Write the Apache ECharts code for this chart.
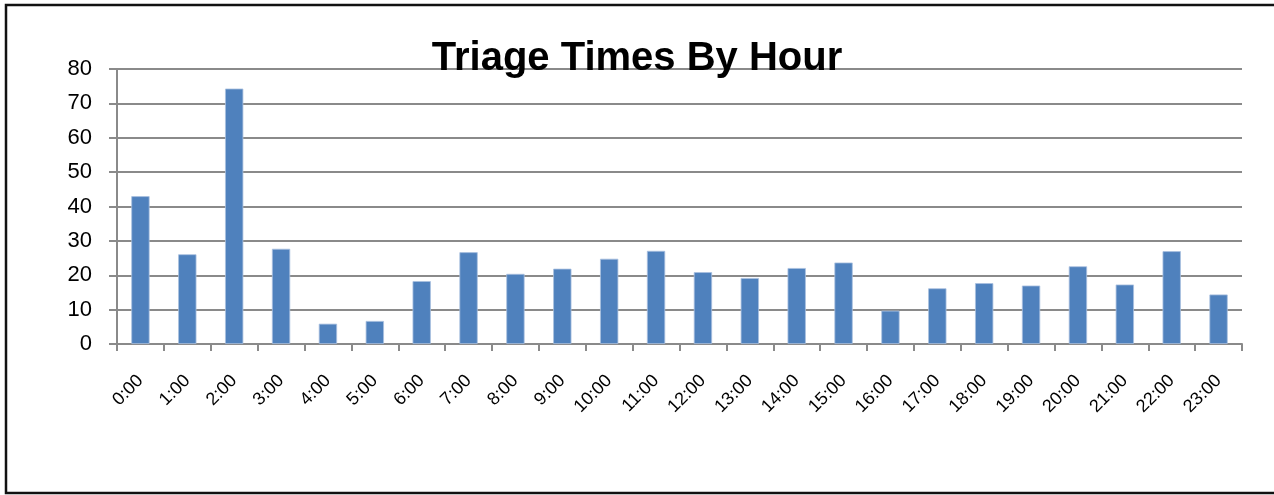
<!DOCTYPE html>
<html>
<head>
<meta charset="utf-8">
<script src="https://cdn.jsdelivr.net/npm/echarts@6/dist/echarts.min.js"></script>
<style>
  html, body { margin: 0; padding: 0; background: #fff; }
  #chart { width: 1274px; height: 495px; }
</style>
</head>
<body>
<div id="chart"></div>
<script>
// hours along the x axis
const hours = ['0:00', '1:00', '2:00', '3:00', '4:00', '5:00', '6:00', '7:00', '8:00', '9:00',
  '10:00', '11:00', '12:00', '13:00', '14:00', '15:00', '16:00', '17:00', '18:00', '19:00',
  '20:00', '21:00', '22:00', '23:00']
// triage time per hour
const triageTimes = [43, 26.1, 74.3, 27.7, 5.9, 6.7, 18.3, 26.7, 20.4, 21.9,
  24.8, 27.1, 20.9, 19.2, 22.1, 23.7, 9.7, 16.2, 17.7, 17.0,
  22.6, 17.3, 27.0, 14.4]
const yMin = 0
const yMax = 80
const yStep = 10

const gridGrey = '#8a8a8a'
const font = '"Liberation Sans", Arial, sans-serif'

const myChart = echarts.init(document.getElementById('chart'))

const option = {
  animation: false,
  textStyle: { fontFamily: font },
  title: {
    text: 'Triage Times By Hour',
    left: 'center',
    top: 34,
    textStyle: { fontFamily: font, fontSize: 40, fontWeight: 'bold', color: '#000' }
  },
  graphic: [{
    type: 'rect',
    shape: { x: 6, y: 5, width: 1300, height: 488 },
    style: { fill: null, stroke: '#111', lineWidth: 2.5 },
    z: 100
  }],
  grid: { left: 117, right: 32, top: 69, bottom: 151 },
  xAxis: {
    type: 'category',
    data: hours,
    axisLine: { lineStyle: { color: gridGrey, width: 2 } },
    axisTick: { show: true, length: 7, lineStyle: { color: gridGrey, width: 2 } },
    axisLabel: {
      rotate: 45,
      margin: 34,
      interval: 0,
      fontSize: 18,
      color: '#000',
      fontFamily: font
    }
  },
  yAxis: {
    type: 'value',
    min: yMin,
    max: yMax,
    interval: yStep,
    axisLine: { show: true, lineStyle: { color: gridGrey, width: 2 } },
    axisTick: { show: true, length: 8, lineStyle: { color: gridGrey, width: 2 } },
    splitLine: { lineStyle: { color: gridGrey, width: 2 } },
    axisLabel: { margin: 25, fontSize: 22, color: '#000', fontFamily: font }
  },
  series: [{
    type: 'bar',
    data: triageTimes,
    barWidth: '39%',
    itemStyle: { color: '#4f81bd', borderColor: '#a9c0e0', borderWidth: 0.8 }
  }]
}

myChart.setOption(option)
</script>
</body>
</html>
